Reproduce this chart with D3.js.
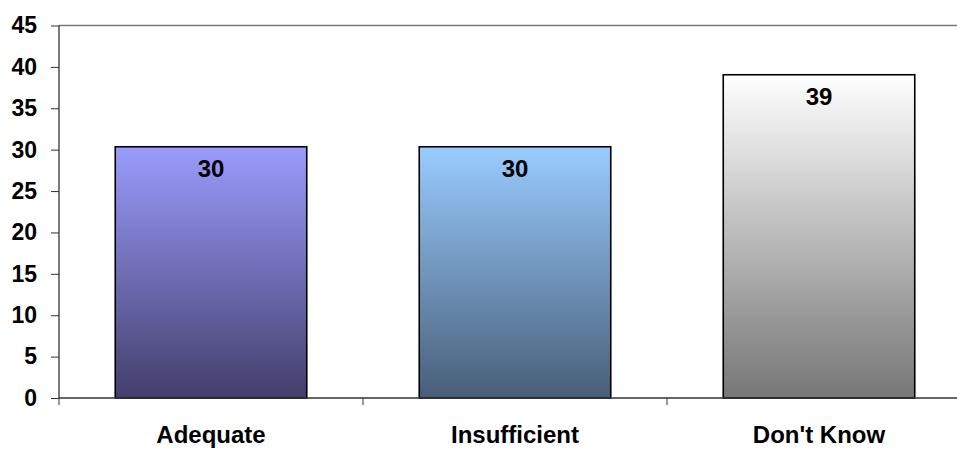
<!DOCTYPE html>
<html>
<head>
<meta charset="utf-8">
<script src="https://cdn.jsdelivr.net/npm/d3@7"></script>
<style>
  body { margin: 0; background: #fff; }
  svg { display: block; font-family: Arial, "Liberation Sans", sans-serif; }
  .y-axis text, .x-axis text { font-weight: bold; fill: #000; }
  .y-axis path, .x-axis path { display: none; }
  .y-axis line, .x-axis line { stroke: #333; }
  .bar { stroke: #000; stroke-width: 1.6; }
  .value { font-weight: bold; font-size: 24px; text-anchor: middle; }
</style>
</head>
<body>
<svg id="chart"></svg>
<script>
const CATEGORIES = ["Adequate", "Insufficient", "Don't Know"];
const VALUES = [30.35, 30.35, 39.05];
const Y_TICKS = [0, 5, 10, 15, 20, 25, 30, 35, 40, 45];
const TOP_COLORS = ["#9b9bfd", "#99ccff", "#ffffff"];
const BOTTOM_COLORS = ["#433f6c", "#485e78", "#767676"];

const CHART_SIZE = { width: 957, height: 449 };
const MARGIN = { left: 59, right: -14, top: 25.5, bottom: 51 };
const WIDTH = CHART_SIZE.width - (MARGIN.left + MARGIN.right);
const HEIGHT = CHART_SIZE.height - (MARGIN.top + MARGIN.bottom);

const svg = d3
  .select("#chart")
  .attr("width", CHART_SIZE.width)
  .attr("height", CHART_SIZE.height);

const defs = svg.append("defs");
CATEGORIES.forEach((c, i) => {
  const grad = defs
    .append("linearGradient")
    .attr("id", `grad${i}`)
    .attr("x1", 0).attr("y1", 0)
    .attr("x2", 0).attr("y2", 1);
  grad.append("stop").attr("offset", "0%").attr("stop-color", TOP_COLORS[i]);
  grad.append("stop").attr("offset", "100%").attr("stop-color", BOTTOM_COLORS[i]);
});

const g = svg
  .append("g")
  .attr("transform", `translate(${MARGIN.left},${MARGIN.top})`);

const x = d3
  .scaleBand()
  .domain(CATEGORIES)
  .range([0, WIDTH])
  .paddingInner(0.37)
  .paddingOuter(0.185);

const y = d3
  .scaleLinear()
  .domain([0, 45])
  .range([HEIGHT, 0]);

// top border of plot area
g.append("line")
  .attr("x1", 0).attr("x2", WIDTH)
  .attr("y1", 0).attr("y2", 0)
  .attr("stroke", "#777")
  .attr("stroke-width", 1.3);

const yAxis = d3.axisLeft(y).tickValues(Y_TICKS).tickSize(8).tickPadding(14);
g.append("g")
  .attr("class", "y-axis")
  .call(yAxis)
  .selectAll("text")
  .style("font-size", "23px");

g.append("line")
  .attr("x1", 0).attr("x2", 0)
  .attr("y1", 0).attr("y2", HEIGHT)
  .attr("stroke", "#333")
  .attr("stroke-width", 1.3);

// category boundary ticks
const boundaries = d3.range(CATEGORIES.length + 1).map(i => i * WIDTH / CATEGORIES.length);
g.selectAll(".cat-tick")
  .data(boundaries)
  .join("line")
  .attr("class", "cat-tick")
  .attr("x1", d => d).attr("x2", d => d)
  .attr("y1", HEIGHT).attr("y2", HEIGHT + 7)
  .attr("stroke", "#333");

g.append("g")
  .attr("class", "x-axis")
  .attr("transform", `translate(0,${HEIGHT})`)
  .call(d3.axisBottom(x).tickSize(0))
  .selectAll("text")
  .attr("y", 45)
  .attr("dy", 0)
  .style("font-size", "24px");

g.selectAll(".bar")
  .data(VALUES)
  .join("rect")
  .attr("class", "bar")
  .attr("x", (d, i) => x(CATEGORIES[i]))
  .attr("y", d => y(d))
  .attr("width", x.bandwidth())
  .attr("height", d => HEIGHT - y(d))
  .attr("fill", (d, i) => `url(#grad${i})`);

g.append("line")
  .attr("x1", 0).attr("x2", WIDTH)
  .attr("y1", HEIGHT).attr("y2", HEIGHT)
  .attr("stroke", "#333")
  .attr("stroke-width", 1.6);

g.selectAll(".value")
  .data(VALUES)
  .join("text")
  .attr("class", "value")
  .attr("x", (d, i) => x(CATEGORIES[i]) + x.bandwidth() / 2)
  .attr("y", d => y(d) + 30)
  .text(d => Math.round(d));
</script>
</body>
</html>
